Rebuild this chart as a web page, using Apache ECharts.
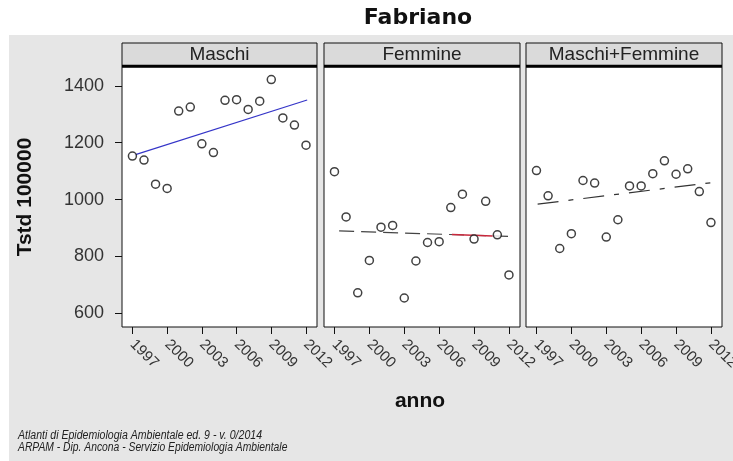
<!DOCTYPE html>
<html>
<head>
<meta charset="utf-8">
<script src="https://cdn.jsdelivr.net/npm/echarts@6/dist/echarts.min.js"></script>
<style>html,body{margin:0;padding:0;background:#fff}#c{width:733px;height:461px}</style>
</head>
<body>
<div id="c"></div>
<script>
const years = [1997,1998,1999,2000,2001,2002,2003,2004,2005,2006,2007,2008,2009,2010,2011,2012];
const maschi = [1153,1139,1054,1039,1311,1325,1196,1165,1349,1351,1317,1346,1422,1287,1262,1191];
const femmine = [1098,939,672,786,903,909,654,784,849,852,972,1019,861,994,876,735];
const totale = [1102,1013,828,880,1067,1058,868,929,1048,1048,1091,1136,1089,1108,1028,919];
const panelNames = ['Maschi','Femmine','Maschi+Femmine'];
const xTicks = [1997,2000,2003,2006,2009,2012];
const yTicks = [600,800,1000,1200,1400];
// trend lines: [x, y] endpoints
const trendMaschiX = [1997.2, 2012.1];
const trendMaschiY = [1157, 1350];
const trendFemmineX = [1997.4, 2012.15];
const trendFemmineY = [890, 870];
const trendFemmineRedX = [2007.1, 2010.6];
const trendFemmineRedY = [877, 872];
const trendTotaleX = [1997.1, 2012.15];
const trendTotaleY = [984, 1060];
const titleText = 'Fabriano';
const xName = 'anno';
const yName = 'Tstd 100000';
const footer1 = 'Atlanti di Epidemiologia Ambientale ed. 9 - v. 0/2014';
const footer2 = 'ARPAM - Dip. Ancona - Servizio Epidemiologia Ambientale';

const FONT = 'Liberation Sans, Arial, sans-serif';
const gridLefts = [122, 324, 526];
const gridWidths = [195, 196, 196];
const TOP = 67, H = 260;

const grids = gridLefts.map((l,i)=>({left:l, top:TOP, width:gridWidths[i], height:H, show:true, backgroundColor:'#fff', borderColor:'#111', borderWidth:1, containLabel:false, outerBoundsMode:'none'}));
const xAxes = gridLefts.map((l,i)=>({
  type:'value', gridIndex:i, min:1996.1, max:2012.95,
  splitLine:{show:false}, axisLine:{show:false},
  axisTick:{show:true, length:7, customValues:xTicks, lineStyle:{color:'#111'}},
  axisLabel:{show:true, customValues:xTicks, rotate:-45, margin:15, color:'#333', fontFamily:FONT, fontSize:15, formatter:v=>String(v)}
}));
const yAxes = gridLefts.map((l,i)=>({
  type:'value', gridIndex:i, min:552, max:1466,
  splitLine:{show:false}, axisLine:{show:false},
  axisTick:{show:i===0, length:7, customValues:yTicks, lineStyle:{color:'#111'}},
  axisLabel:{show:i===0, customValues:yTicks, margin:18, color:'#333', fontFamily:FONT, fontSize:18, formatter:v=>String(v)},
  name: i===0 ? yName : '', nameLocation:'middle', nameGap:86, nameRotate:90,
  nameTextStyle:{fontFamily:FONT, fontWeight:'bold', fontSize:21, color:'#111'}
}));

const pair = (xs, ys) => xs.map((x,i)=>[x, ys[i]]);
const pts = vals => years.map((y,i)=>[y, vals[i]]);
const scatterStyle = {color:'#fff', borderColor:'#111', borderWidth:1.5};

const series = [
  {type:'line', xAxisIndex:0, yAxisIndex:0, data:pair(trendMaschiX,trendMaschiY), symbol:'none', lineStyle:{color:'#3535c8', width:1.2}, z:2},
  {type:'line', xAxisIndex:1, yAxisIndex:1, data:pair(trendFemmineX,trendFemmineY), symbol:'none', lineStyle:{color:'#444', width:1.2, type:[15,7]}, z:2},
  {type:'line', xAxisIndex:1, yAxisIndex:1, data:pair(trendFemmineRedX,trendFemmineRedY), symbol:'none', lineStyle:{color:'#c8283c', width:1.5}, z:3},
  {type:'line', xAxisIndex:2, yAxisIndex:2, data:pair(trendTotaleX,trendTotaleY), symbol:'none', lineStyle:{color:'#333', width:1.2, type:[21,10,5,10]}, z:2},
  {type:'scatter', xAxisIndex:0, yAxisIndex:0, data:pts(maschi), symbol:'circle', symbolSize:8, itemStyle:scatterStyle, z:5},
  {type:'scatter', xAxisIndex:1, yAxisIndex:1, data:pts(femmine), symbol:'circle', symbolSize:8, itemStyle:scatterStyle, z:5},
  {type:'scatter', xAxisIndex:2, yAxisIndex:2, data:pts(totale), symbol:'circle', symbolSize:8, itemStyle:scatterStyle, z:5}
];

const graphics = [
  {type:'rect', shape:{x:0, y:0, width:733, height:35}, style:{fill:'#fff'}, z:-10, silent:true},
  {type:'rect', shape:{x:0, y:0, width:9, height:461}, style:{fill:'#fff'}, z:-10, silent:true},
  {type:'text', x:418, y:18, style:{text:titleText, textAlign:'center', textVerticalAlign:'middle', font:'bold 22px "DejaVu Sans", sans-serif', fill:'#111'}},
  {type:'text', x:420, y:401, style:{text:xName, textAlign:'center', textVerticalAlign:'middle', font:'bold 21px ' + FONT, fill:'#111'}},
  {type:'text', x:18, y:436, scaleX:0.88, style:{text:footer1, textAlign:'left', textVerticalAlign:'middle', font:'italic 12px ' + FONT, fill:'#222'}},
  {type:'text', x:18, y:448, scaleX:0.86, style:{text:footer2, textAlign:'left', textVerticalAlign:'middle', font:'italic 12px ' + FONT, fill:'#222'}}
];
gridLefts.forEach((l,i)=>{
  graphics.push({type:'rect', shape:{x:l, y:43, width:gridWidths[i], height:24}, style:{fill:'#dadada', stroke:'#111', lineWidth:1}});
  graphics.push({type:'line', shape:{x1:l, y1:66, x2:l+gridWidths[i], y2:66}, style:{stroke:'#000', lineWidth:2.5}});
  graphics.push({type:'text', x:l+gridWidths[i]/2, y:55, style:{text:panelNames[i], textAlign:'center', textVerticalAlign:'middle', font:'19px ' + FONT, fill:'#222'}});
});

const chart = echarts.init(document.getElementById('c'), null, {renderer:'canvas'});
chart.setOption({
  animation:false,
  backgroundColor:'#e6e6e6',
  grid:grids, xAxis:xAxes, yAxis:yAxes, series:series, graphic:graphics
});
</script>
</body>
</html>
